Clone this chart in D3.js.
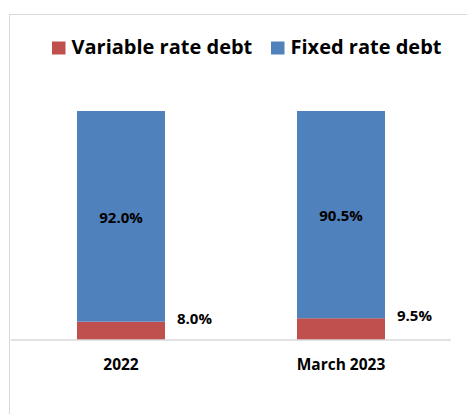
<!DOCTYPE html>
<html>
<head>
<meta charset="utf-8">
<script src="https://cdn.jsdelivr.net/npm/d3@7"></script>
<style>
  body { margin: 0; background: #fff; }
  svg text { font-family: "Open Sans", Lato, sans-serif; font-weight: bold; fill: #000; }
</style>
</head>
<body>
<svg width="467" height="414"></svg>
<script>
const categories = ["2022", "March 2023"];
const variableRate = [8.0, 9.5];
const fixedRate = [92.0, 90.5];
const seriesNames = ["Variable rate debt", "Fixed rate debt"];
const seriesColors = ["#C0504D", "#4F81BD"];

const svg = d3.select("svg");

// chart area frame (light grey, runs off the right/bottom edge)
svg.append("rect")
  .attr("x", 9.5).attr("y", 14.5)
  .attr("width", 480).attr("height", 420)
  .attr("fill", "none").attr("stroke", "#d9d9d9");

const x = d3.scaleBand()
  .domain(categories)
  .range([11, 451])
  .paddingInner(0.6)
  .paddingOuter(0.3);

const y = d3.scaleLinear()
  .domain([0, 100])
  .range([340, 111]);

// stack the two series
const rows = categories.map((c, i) => ({cat: c, variable: variableRate[i], fixed: fixedRate[i]}));
const stacked = d3.stack().keys(["variable", "fixed"])(rows);

const layer = svg.selectAll(".layer")
  .data(stacked)
  .enter().append("g")
  .attr("fill", (d, i) => seriesColors[i]);

layer.selectAll("rect")
  .data(d => d)
  .enter().append("rect")
  .attr("x", d => x(d.data.cat))
  .attr("width", x.bandwidth())
  .attr("y", d => y(d[1]))
  .attr("height", d => y(d[0]) - y(d[1]));

// axis baseline
svg.append("line")
  .attr("x1", 11).attr("x2", 451)
  .attr("y1", 340).attr("y2", 340)
  .attr("stroke", "#d9d9d9").attr("stroke-width", 1.5);

// category labels
svg.selectAll(".cat")
  .data(categories)
  .enter().append("text")
  .attr("class", "cat")
  .attr("x", d => x(d) + x.bandwidth() / 2)
  .attr("y", 370)
  .attr("text-anchor", "middle")
  .style("font-size", "15.5px")
  .text(d => d);

// fixed rate labels, centred in blue segment
svg.selectAll(".fixlab")
  .data(rows)
  .enter().append("text")
  .attr("x", d => x(d.cat) + x.bandwidth() / 2)
  .attr("y", d => (y(d.variable) + y(d.variable + d.fixed)) / 2 + 6.5)
  .attr("text-anchor", "middle")
  .style("font-size", "15px")
  .text(d => d.fixed.toFixed(1) + "%");

// variable rate labels, right of the bar
svg.selectAll(".varlab")
  .data(rows)
  .enter().append("text")
  .attr("x", d => x(d.cat) + x.bandwidth() + 12)
  .attr("y", d => y(d.variable) + 2.5)
  .style("font-size", "15px")
  .text(d => d.variable.toFixed(1) + "%");

// legend
const legendX = [52, 271];
const legend = svg.selectAll(".leg")
  .data(seriesNames)
  .enter().append("g")
  .attr("transform", (d, i) => `translate(${legendX[i]},0)`);

legend.append("rect")
  .attr("x", 0).attr("y", 41.5)
  .attr("width", 13.5).attr("height", 13)
  .attr("fill", (d, i) => seriesColors[i]);

legend.append("text")
  .attr("x", 19.5).attr("y", 54)
  .style("font-size", "20px")
  .text(d => d);
</script>
</body>
</html>
